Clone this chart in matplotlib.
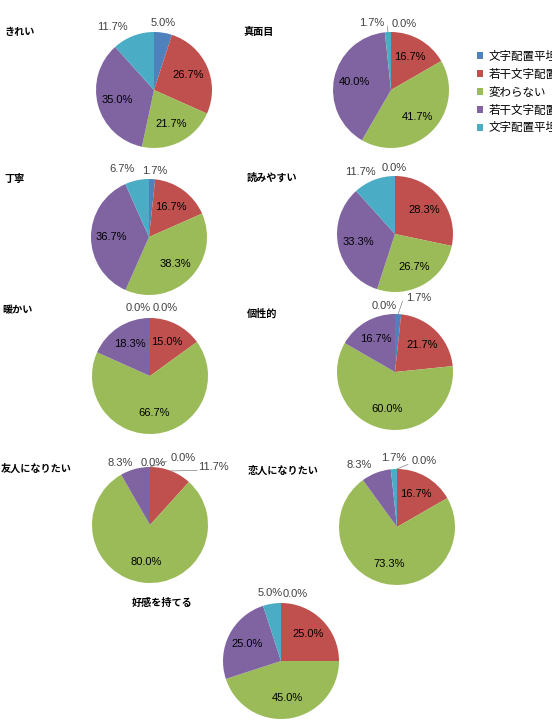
import matplotlib
matplotlib.use("Agg")
import matplotlib.pyplot as plt
from matplotlib.patches import Patch
import numpy as np

W, H = 552, 724
DPI = 100

series_labels = ["文字配置平坦な方が良い", "若干文字配置平坦な方が良い", "変わらない",
                 "若干文字配置平坦でない方が良い", "文字配置平坦でない方が良い"]
colors = ["#4F81BD", "#C0504D", "#9BBB59", "#8064A2", "#4BACC6"]

titles = ["きれい", "真面目", "丁寧", "読みやすい", "暖かい", "個性的",
          "友人になりたい", "恋人になりたい", "好感を持てる"]
v_kirei = [5.0, 26.7, 21.7, 35.0, 11.7]
v_majime = [0.0, 16.7, 41.7, 40.0, 1.7]
v_teinei = [1.7, 16.7, 38.3, 36.7, 6.7]
v_yomi = [0.0, 28.3, 26.7, 33.3, 11.7]
v_atatakai = [0.0, 15.0, 66.7, 18.3, 0.0]
v_kosei = [1.7, 21.7, 60.0, 16.7, 0.0]
v_yujin = [0.0, 11.7, 80.0, 8.3, 0.0]
v_koibito = [0.0, 16.7, 73.3, 8.3, 1.7]
v_kokan = [0.0, 25.0, 45.0, 25.0, 5.0]
values = [v_kirei, v_majime, v_teinei, v_yomi, v_atatakai, v_kosei,
          v_yujin, v_koibito, v_kokan]

# ---- layout (pixels) ----
centers = [(154, 90), (391, 90), (149, 237), (395, 234), (150, 376),
           (395, 372), (150, 525), (397, 527), (281, 661)]
R = 58
title_pos = [(5, 32), (243, 32), (4, 179), (247, 178), (2, 310), (247, 314),
             (1, 469), (248, 471), (132, 603)]
# outside label positions (in radius units) keyed by slice index
outside = [
    {0: (0.16, 1.16), 4: (-0.71, 1.09)},
    {0: (0.22, 1.14), 4: (-0.34, 1.16)},
    {0: (0.10, 1.14), 4: (-0.47, 1.17)},
    {0: (-0.02, 1.14), 4: (-0.59, 1.07)},
    {0: (0.26, 1.17), 4: (-0.21, 1.17)},
    {0: (0.41, 1.28), 4: (-0.19, 1.14)},
    {0: (0.57, 1.16), 1: (1.09, 1.0), 3: (-0.52, 1.07), 4: (0.05, 1.07)},
    {0: (0.47, 1.14), 3: (-0.66, 1.07), 4: (-0.05, 1.19)},
    {0: (0.24, 1.16), 4: (-0.19, 1.17)},
]
leaders = {1: [4], 5: [0], 6: [0, 1], 7: [0]}

num_font = ["Liberation Sans Narrow", "Liberation Sans", "DejaVu Sans"]
jp_font = ["Noto Sans CJK JP", "DejaVu Sans"]

fig = plt.figure(figsize=(W / DPI, H / DPI), dpi=DPI)
fig.patch.set_facecolor("white")

for i, vals in enumerate(values):
    cx, cy = centers[i]
    ax = fig.add_axes([(cx - R) / W, 1 - (cy + R) / H, 2 * R / W, 2 * R / H])
    wedges, _ = ax.pie(vals, colors=colors, startangle=90, counterclock=False,
                       radius=1.0, wedgeprops=dict(edgecolor="none"))
    ax.set_xlim(-1, 1)
    ax.set_ylim(-1, 1)
    ax.set_aspect("auto")
    ax.axis("off")
    for k, (w, v) in enumerate(zip(wedges, vals)):
        mid = np.deg2rad((w.theta1 + w.theta2) / 2)
        txt = f"{v:.1f}%"
        if k in outside[i]:
            x, y = outside[i][k]
            ax.text(x, y, txt, ha="center", va="center", fontsize=8,
                    family=num_font, color="#404040", clip_on=False)
            if k in leaders.get(i, []):
                ex, ey = np.cos(mid) * 1.0, np.sin(mid) * 1.0
                sx = x - 0.28 if x > ex else x + 0.28
                sy = y - 0.06
                ax.plot([sx, ex], [sy, ey], color="#808080", lw=0.5,
                        clip_on=False)
        else:
            ax.text(0.65 * np.cos(mid), 0.65 * np.sin(mid), txt, ha="center",
                    va="center", fontsize=8, family=num_font, color="black")
    tx, ty = title_pos[i]
    fig.text(tx / W, 1 - ty / H, titles[i], ha="left", va="center",
             fontsize=7.3, family=jp_font, fontweight="bold", color="black")

handles = [Patch(facecolor=c, edgecolor="none") for c in colors]
fig.legend(handles, series_labels, loc="upper left",
           bbox_to_anchor=(477 / W, 1 - 50 / H), bbox_transform=fig.transFigure,
           frameon=False, prop={"family": jp_font, "size": 8.3},
           handlelength=0.55, handleheight=0.55, handletextpad=0.45,
           labelspacing=0.42, borderpad=0, borderaxespad=0)

fig.savefig("out.png", dpi=DPI)
